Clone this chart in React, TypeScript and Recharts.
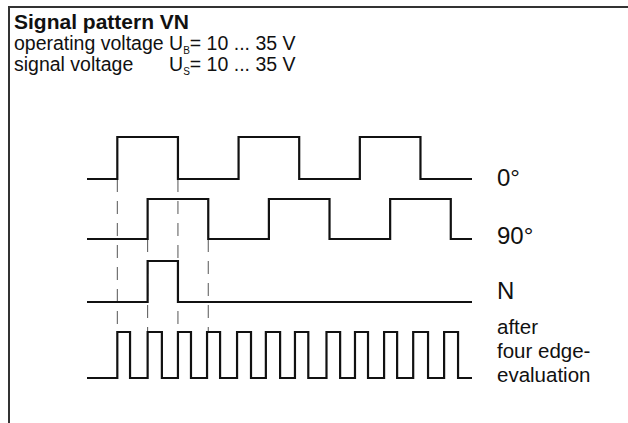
import { LineChart, Line, XAxis, YAxis } from "recharts";

// time in quarter periods
const T_START = 0;
const T_END = 12.7;

const phase0Edges = [1, 3, 5, 7, 9, 11];
const phase90Edges = [2, 4, 6, 8, 10, 12];
const indexEdges = [2, 3];
const quadRises = [1, 2, 3, 3.96, 4.95, 5.9, 6.86, 7.9, 8.84, 9.8, 10.76, 11.78];
const quadFalls = [1.42, 2.47, 3.43, 4.39, 5.41, 6.37, 7.3, 8.35, 9.27, 10.23, 11.25, 12.24];

// dashed helper lines: time and the signal they start from
const markerTimes = [1, 2, 3, 4];
const markerFrom = ["phase0", "phase90", "phase0", "phase90"];

const labels = ["0°", "90°", "N"];
const quadLabel = ["after", "four edge-", "evaluation"];

// lane layout (pixels, y axis is reversed)
const lanes: Record<string, { low: number; amp: number }> = {
  phase0: { low: 179, amp: 42 },
  phase90: { low: 239, amp: 40 },
  index: { low: 302, amp: 41 },
  quad: { low: 378, amp: 46 },
};
const labelTops = [166, 224, 279];

function toSteps(edges: number[], lane: { low: number; amp: number }) {
  const pts = [{ t: T_START, y: lane.low }];
  let level = 0;
  edges.forEach((e) => {
    level = 1 - level;
    pts.push({ t: e, y: level ? lane.low - lane.amp : lane.low });
  });
  pts.push({ t: T_END, y: pts[pts.length - 1].y });
  return pts;
}

const quadEdges = [...quadRises, ...quadFalls].sort((a, b) => a - b);

const series = [
  toSteps(phase0Edges, lanes.phase0),
  toSteps(phase90Edges, lanes.phase90),
  toSteps(indexEdges, lanes.index),
  toSteps(quadEdges, lanes.quad),
];

const markers = markerTimes.map((t, i) => [
  { t, y: lanes[markerFrom[i]].low },
  { t, y: lanes.quad.low - lanes.quad.amp },
]);

const font = "'Liberation Sans', Arial, sans-serif";
const subStyle = { fontSize: 10, position: "relative" as const, top: 4, verticalAlign: "baseline", lineHeight: 0 };

export default function App() {
  return (
    <div
      style={{
        position: "absolute",
        left: 0,
        top: 0,
        width: 628,
        height: 423,
        background: "#fff",
        fontFamily: font,
        color: "#111",
        overflow: "hidden",
      }}
    >
      <div
        style={{
          position: "absolute",
          left: 8,
          top: 6,
          right: 0,
          bottom: 0,
          borderTop: "2px solid #333",
          borderLeft: "2px solid #333",
        }}
      />

      <div style={{ position: "absolute", left: 14, top: 11, fontSize: 21, lineHeight: "21px", fontWeight: "bold" }}>
        Signal pattern VN
      </div>
      <div
        style={{
          position: "absolute",
          left: 14,
          top: 33,
          fontSize: 19.5,
          lineHeight: "21px",
          display: "grid",
          gridTemplateColumns: "auto auto",
        }}
      >
        <span>operating voltage&nbsp;</span>
        <span>
          U<sub style={subStyle}>B</sub>= 10 ... 35 V
        </span>
        <span>signal voltage</span>
        <span>
          U<sub style={subStyle}>S</sub>= 10 ... 35 V
        </span>
      </div>

      <LineChart width={628} height={423} margin={{ top: 0, right: 156, bottom: 0, left: 87 }}>
        <XAxis type="number" dataKey="t" domain={[T_START, T_END]} hide allowDataOverflow />
        <YAxis type="number" dataKey="y" domain={[0, 423]} reversed hide allowDataOverflow />
        {markers.map((d, i) => (
          <Line
            key={"m" + i}
            data={d}
            dataKey="y"
            type="linear"
            stroke="#555"
            strokeWidth={1}
            strokeDasharray="13 9"
            dot={false}
            activeDot={false}
            isAnimationActive={false}
          />
        ))}
        {series.map((d, i) => (
          <Line
            key={"s" + i}
            data={d}
            dataKey="y"
            type="stepAfter"
            stroke="#111"
            strokeWidth={2.2}
            dot={false}
            activeDot={false}
            isAnimationActive={false}
          />
        ))}
      </LineChart>

      {labels.map((l, i) => (
        <div
          key={l}
          style={{
            position: "absolute",
            left: 497,
            top: labelTops[i],
            fontSize: 24,
            lineHeight: "24px",
          }}
        >
          {l}
        </div>
      ))}
      <div style={{ position: "absolute", left: 497, top: 315, fontSize: 20.5, lineHeight: "24px" }}>
        {quadLabel.map((l) => (
          <div key={l}>{l}</div>
        ))}
      </div>
    </div>
  );
}
